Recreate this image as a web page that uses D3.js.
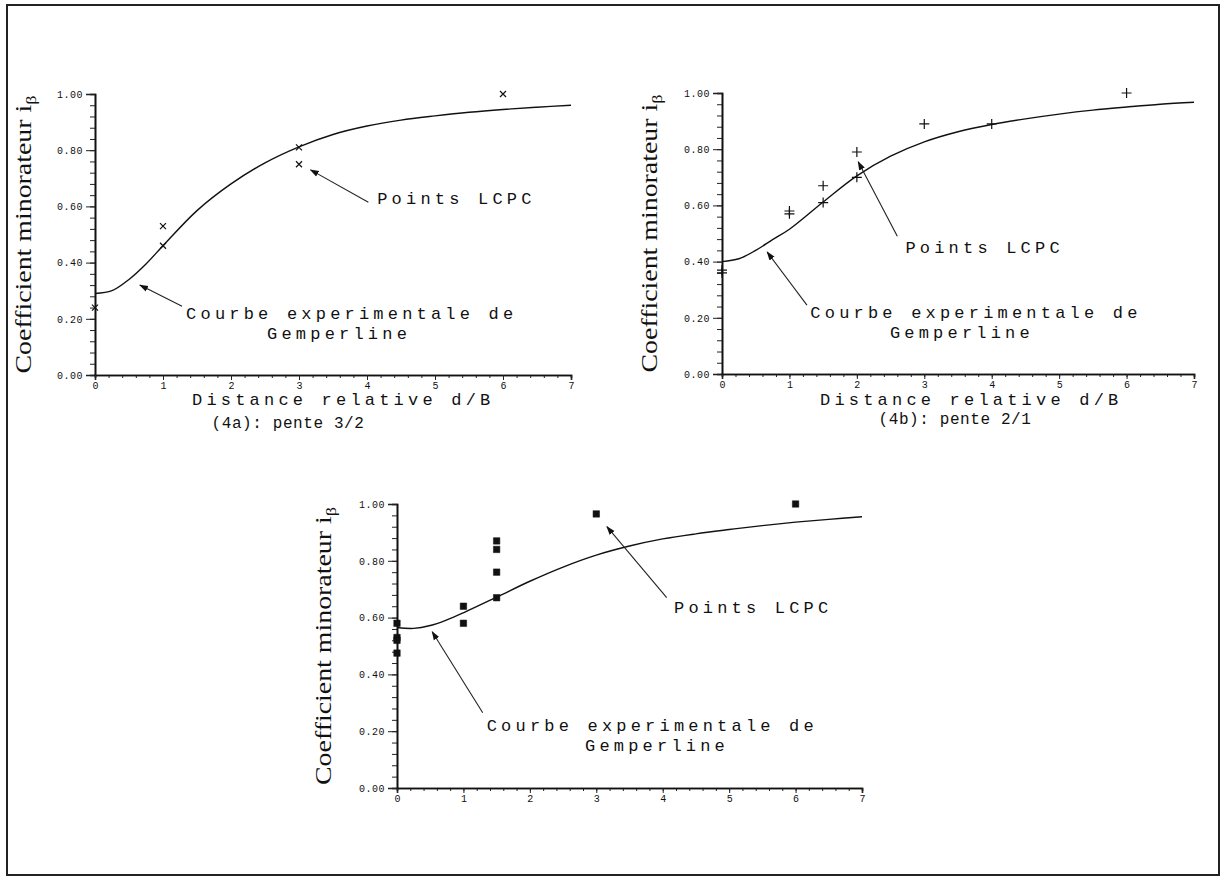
<!DOCTYPE html>
<meta charset="utf-8">
<style>
body { margin: 0; background: #fff; }
text { fill: #111; }
.mono { font-family: "Liberation Mono", "DejaVu Sans Mono", monospace; }
</style>
<body>
<script src="https://d3js.org/d3.v7.min.js"></script>
<script>
var width = 1221,
    height = 877;

// abscissa of the curve samples (d/B)
var curveX = [0, 0.25, 0.5, 0.75, 1, 1.5, 2, 2.5, 3, 3.5, 4, 4.5, 5, 5.5, 6, 6.5, 7];

// Gemperline curves
var curveA = [0.29, 0.30, 0.34, 0.395, 0.46, 0.585, 0.68, 0.755, 0.812, 0.856, 0.886, 0.907, 0.922, 0.935, 0.945, 0.953, 0.96];
var curveB = [0.40, 0.41, 0.44, 0.478, 0.515, 0.612, 0.705, 0.775, 0.826, 0.862, 0.888, 0.908, 0.925, 0.939, 0.95, 0.96, 0.967];
var curveC = [0.565, 0.562, 0.572, 0.592, 0.617, 0.672, 0.728, 0.778, 0.82, 0.852, 0.877, 0.895, 0.91, 0.924, 0.936, 0.946, 0.955];

// LCPC points
var pointsAx = [0, 1, 1, 3, 3, 6];
var pointsAy = [0.24, 0.53, 0.46, 0.81, 0.75, 1.00];
var pointsBx = [0, 0, 1, 1, 1.5, 1.5, 2, 2, 3, 4, 6];
var pointsBy = [0.37, 0.36, 0.57, 0.58, 0.67, 0.61, 0.79, 0.70, 0.89, 0.89, 1.00];
var pointsCx = [0, 0, 0, 0, 1, 1, 1.5, 1.5, 1.5, 1.5, 3, 6];
var pointsCy = [0.58, 0.53, 0.52, 0.475, 0.64, 0.58, 0.87, 0.84, 0.76, 0.67, 0.965, 1.00];

var yTicks = [0, 0.2, 0.4, 0.6, 0.8, 1.0];
var xTicks = [0, 1, 2, 3, 4, 5, 6, 7];

var svg = d3.select("body").append("svg")
    .attr("width", width)
    .attr("height", height);

svg.append("defs").append("marker")
    .attr("id", "head")
    .attr("viewBox", "0 0 10 10")
    .attr("refX", 9).attr("refY", 5)
    .attr("markerWidth", 9).attr("markerHeight", 9)
    .attr("markerUnits", "userSpaceOnUse")
    .attr("orient", "auto")
  .append("path")
    .attr("d", "M0,1.5 L10,5 L0,8.5 Z")
    .attr("fill", "#111");

// page frame
svg.append("rect")
    .attr("x", 7).attr("y", 5)
    .attr("width", 1212).attr("height", 870)
    .attr("fill", "none").attr("stroke", "#222").attr("stroke-width", 2);

function panel(cfg) {
  var x = d3.scaleLinear().domain([0, 7]).range([cfg.left, cfg.right]);
  var y = d3.scaleLinear().domain([0, 1]).range([cfg.bottom, cfg.top]);
  var g = svg.append("g");

  // y axis: minor ticks every 0.04
  var yAxis = d3.axisLeft(y).tickValues(d3.range(0, 1.001, 0.04)).tickSize(5).tickFormat("");
  g.append("g").attr("transform", "translate(" + cfg.left + ",0)").call(yAxis);
  g.append("g").attr("transform", "translate(" + cfg.left + ",0)")
    .call(d3.axisLeft(y).tickValues(yTicks).tickSize(9).tickPadding(3).tickFormat(d3.format(".2f")))
    .call(s => s.selectAll("text").attr("class", "mono").attr("font-size", 10).attr("letter-spacing", 0.5));

  // x axis: minor ticks every 0.2
  g.append("g").attr("transform", "translate(0," + cfg.bottom + ")")
    .call(d3.axisBottom(x).tickValues(d3.range(0, 7.001, 0.2)).tickSize(3).tickFormat(""));
  g.append("g").attr("transform", "translate(0," + cfg.bottom + ")")
    .call(d3.axisBottom(x).tickValues(xTicks).tickSize(5).tickPadding(2).tickFormat(d3.format("d")))
    .call(s => s.selectAll("text").attr("class", "mono").attr("font-size", 10));

  g.selectAll(".domain").attr("stroke", "#111").attr("stroke-width", 1.6);
  g.selectAll(".tick line").attr("stroke", "#222");

  // y axis title
  var yt = g.append("text")
      .attr("transform", "translate(" + cfg.ylabX + "," + ((cfg.top + cfg.bottom) / 2) + ") rotate(-90)")
      .attr("text-anchor", "middle")
      .attr("font-family", "Liberation Serif, serif")
      .attr("font-size", 23)
      .attr("textLength", 278)
      .attr("lengthAdjust", "spacingAndGlyphs");
  yt.append("tspan").text("Coefficient minorateur i");
  yt.append("tspan").attr("font-size", 15).attr("dy", 5).text("β");

  // curve
  var line = d3.line()
      .x((d, i) => x(curveX[i]))
      .y(d => y(d))
      .curve(d3.curveCatmullRom.alpha(0.5));
  g.append("path")
      .attr("d", line(cfg.curve))
      .attr("fill", "none")
      .attr("stroke", "#111")
      .attr("stroke-width", 1.4);

  // points
  g.selectAll(".pt")
    .data(cfg.px.map((v, i) => [v, cfg.py[i]]))
    .enter().append("path")
      .attr("class", "pt")
      .attr("transform", d => "translate(" + x(d[0]) + "," + y(d[1]) + ")")
      .attr("d", cfg.symbol)
      .attr("fill", cfg.fill)
      .attr("stroke", "#111")
      .attr("stroke-width", cfg.fill == "none" ? 1.2 : 0.5);

  // annotations
  cfg.notes.forEach(function(n) {
    g.append("line")
      .attr("x1", x(n.tail[0])).attr("y1", y(n.tail[1]))
      .attr("x2", x(n.head[0])).attr("y2", y(n.head[1]))
      .attr("stroke", "#222").attr("stroke-width", 1.1)
      .attr("marker-end", "url(#head)");
    n.lines.forEach(function(l) {
      g.append("text")
        .attr("class", "mono")
        .attr("x", x(l[0])).attr("y", y(l[1]))
        .attr("font-size", 17)
        .attr("letter-spacing", 4.2)
        .text(l[2]);
    });
  });

  if (cfg.xlabel) {
    g.append("text").attr("class", "mono")
      .attr("x", cfg.xlabel[0]).attr("y", cfg.xlabel[1])
      .attr("font-size", 17).attr("letter-spacing", 4.2)
      .text("Distance relative d/B");
    g.append("text").attr("class", "mono")
      .attr("x", cfg.caption[0]).attr("y", cfg.caption[1])
      .attr("text-anchor", "middle")
      .attr("font-size", 16).attr("letter-spacing", 0.6)
      .text(cfg.caption[2]);
  }
}

var crossX = "M-3,-3L3,3M-3,3L3,-3";
var plus = "M-5,0L5,0M0,-5L0,5";
var square = d3.symbol(d3.symbolSquare, 42)();

panel({
  left: 95, right: 571, top: 94, bottom: 375, ylabX: 31,
  curve: curveA, px: pointsAx, py: pointsAy, symbol: crossX, fill: "none",
  notes: [
    {head: [3.17, 0.73], tail: [4.02, 0.615], lines: [[4.15, 0.61, "Points LCPC"]]},
    {head: [0.66, 0.32], tail: [1.28, 0.245], lines: [[1.34, 0.199, "Courbe experimentale de"], [2.53, 0.128, "Gemperline"]]}
  ],
  xlabel: [192, 405], caption: [288, 428, "(4a): pente 3/2"]
});

panel({
  left: 722, right: 1194, top: 93, bottom: 374, ylabX: 657,
  curve: curveB, px: pointsBx, py: pointsBy, symbol: plus, fill: "none",
  notes: [
    {head: [2.02, 0.755], tail: [2.6, 0.49], lines: [[2.72, 0.43, "Points LCPC"]]},
    {head: [0.67, 0.434], tail: [1.26, 0.245], lines: [[1.31, 0.199, "Courbe experimentale de"], [2.49, 0.128, "Gemperline"]]}
  ],
  xlabel: [820, 405], caption: [955, 424, "(4b): pente 2/1"]
});

panel({
  left: 397, right: 862, top: 504, bottom: 788, ylabX: 331,
  curve: curveC, px: pointsCx, py: pointsCy, symbol: square, fill: "#111",
  notes: [
    {head: [3.16, 0.92], tail: [4.06, 0.67], lines: [[4.17, 0.615, "Points LCPC"]]},
    {head: [0.53, 0.55], tail: [1.29, 0.265], lines: [[1.35, 0.201, "Courbe experimentale de"], [2.83, 0.13, "Gemperline"]]}
  ],
  xlabel: null
});
</script>
</body>
